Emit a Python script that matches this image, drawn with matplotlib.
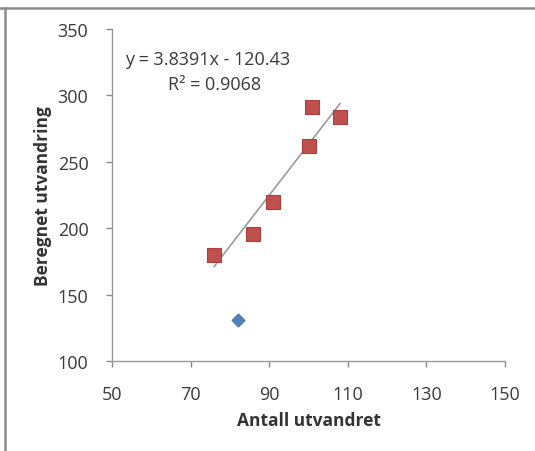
import numpy as np
import matplotlib.pyplot as plt
from matplotlib.lines import Line2D

# Data
red_x = [76, 86, 91, 100, 101, 108]
red_y = [180, 196, 220, 262, 291, 284]
blue_x = [82]
blue_y = [131]

x_ticks = [50, 70, 90, 110, 130, 150]
y_ticks = [100, 150, 200, 250, 300, 350]

plt.rcParams['font.family'] = ['Open Sans', 'DejaVu Sans']

W, H = 535, 452
fig = plt.figure(figsize=(W / 100, H / 100), dpi=100)
ax = fig.add_axes([112 / W, 1 - 362 / H, (505 - 112) / W, (362 - 30) / H])

# trendline over the red points
coef = np.polyfit(red_x, red_y, 1)
tx = np.array([min(red_x), max(red_x)])
ax.plot(tx, np.polyval(coef, tx), color='#9a9a9a', lw=1.2, zorder=2)

ax.scatter(red_x, red_y, marker='s', s=90, color='#C0504D', edgecolors='#A8403D',
           linewidths=0.8, zorder=3)
ax.scatter(blue_x, blue_y, marker='D', s=45, color='#4F81BD', edgecolors='#3F6FA8',
           linewidths=0.6, zorder=3)

ax.set_xlim(50, 150)
ax.set_ylim(100, 350)
ax.set_xticks(x_ticks)
ax.set_yticks(y_ticks)
ax.tick_params(labelsize=13, colors='#8a8a8a', labelcolor='#3a3a3a', length=4, width=1)
ax.tick_params(axis='x', pad=13)
ax.tick_params(axis='y', pad=13)
for s in ['top', 'right']:
    ax.spines[s].set_visible(False)
for s in ['left', 'bottom']:
    ax.spines[s].set_color('#9a9a9a')
    ax.spines[s].set_linewidth(1)

ax.set_xlabel('Antall utvandret', fontsize=12.5, fontweight='bold', color='#333333', labelpad=6)
ax.set_ylabel('Beregnet utvandring', fontsize=12.5, fontweight='bold', color='#333333', labelpad=4)

fig.text(125 / W, 1 - 60 / H, 'y = 3.8391x - 120.43', fontsize=13, color='#3a3a3a', va='center')
fig.text(215 / W, 1 - 85 / H, 'R² = 0.9068', fontsize=13, color='#3a3a3a', va='center', ha='center')

# outer chart frame (top and left edges visible)
fig.add_artist(Line2D([0, 1], [1 - 9 / H, 1 - 9 / H], transform=fig.transFigure,
                      color='#8c8c8c', lw=1.8))
fig.add_artist(Line2D([5 / W, 5 / W], [0, 1 - 9 / H], transform=fig.transFigure,
                      color='#8c8c8c', lw=1.8))

fig.savefig('out.png', dpi=100)
